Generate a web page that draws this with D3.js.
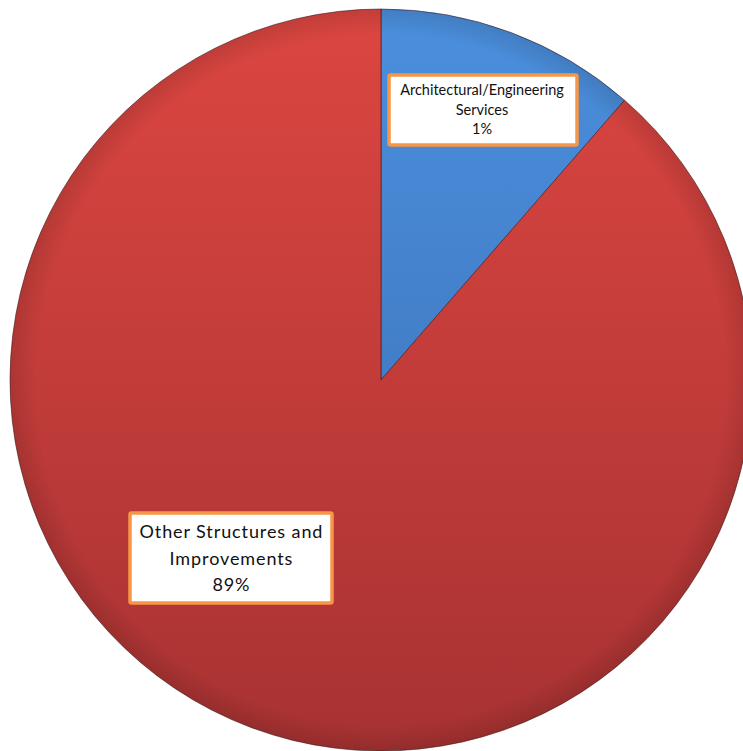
<!DOCTYPE html>
<html><head><meta charset="utf-8">
<script src="https://cdn.jsdelivr.net/npm/d3@7"></script>
<style>html,body{margin:0;padding:0;background:#fff;overflow:hidden}</style>
</head><body>
<svg id="chart" width="743" height="751"></svg>
<script>
const categories = ["Architectural/Engineering Services", "Other Structures and Improvements"];
const values = [11.4, 88.6];
const labelLines = [["Architectural/Engineering", "Services", "1%"], ["Other Structures and", "Improvements", "89%"]];
const topColors = ["#4b8fdd", "#dc4641"];
const bottomColors = ["#3a6cb2", "#a73232"];

const svg = d3.select("#chart");
const cx = 381, cy = 380, r = 371;
const defs = svg.append("defs");
categories.forEach((c, i) => {
  const g = defs.append("linearGradient").attr("id", "g" + i)
    .attr("gradientUnits", "userSpaceOnUse")
    .attr("x1", 0).attr("y1", -r).attr("x2", 0).attr("y2", r);
  g.append("stop").attr("offset", "0%").attr("stop-color", topColors[i]);
  g.append("stop").attr("offset", "100%").attr("stop-color", bottomColors[i]);
});
const rg = defs.append("radialGradient").attr("id", "rim")
  .attr("gradientUnits", "userSpaceOnUse").attr("cx", 0).attr("cy", 0).attr("r", r);
rg.append("stop").attr("offset", "93%").attr("stop-color", "#000").attr("stop-opacity", 0);
rg.append("stop").attr("offset", "100%").attr("stop-color", "#000").attr("stop-opacity", 0.12);

const pie = d3.pie().sort(null).value(d => d)(values);
const arc = d3.arc().innerRadius(0).outerRadius(r);
const g = svg.append("g").attr("transform", `translate(${cx},${cy})`);

g.selectAll("path.slice").data(pie).join("path")
  .attr("class", "slice")
  .attr("d", arc)
  .attr("fill", (d, i) => `url(#g${i})`)
  .attr("stroke", "rgba(60,20,20,0.55)")
  .attr("stroke-width", 1);
g.append("circle").attr("r", r).attr("fill", "url(#rim)").attr("pointer-events", "none");

// label boxes
const boxes = [
  {x: 389, y: 75, w: 188, h: 70, fs: 14.5, ls: 0, lh: 19.5, cx: 482, ty: 95},
  {x: 130, y: 513, w: 202, h: 90, fs: 18, ls: 0.9, lh: 26.5, cx: 231, ty: 538}
];
boxes.forEach((b, i) => {
  svg.append("rect").attr("x", b.x).attr("y", b.y).attr("width", b.w).attr("height", b.h)
    .attr("fill", "#fff").attr("stroke", "#f79646").attr("stroke-width", 3.5).attr("rx", 1.5);
  const t = svg.append("text").attr("text-anchor", "middle")
    .attr("font-family", "Lato, 'Open Sans', sans-serif").attr("font-size", b.fs)
    .attr("letter-spacing", b.ls).attr("fill", "#111");
  labelLines[i].forEach((l, j) => {
    t.append("tspan").attr("x", b.cx + b.ls / 2).attr("y", b.ty + j * b.lh).text(l);
  });
});
</script>
</body></html>
